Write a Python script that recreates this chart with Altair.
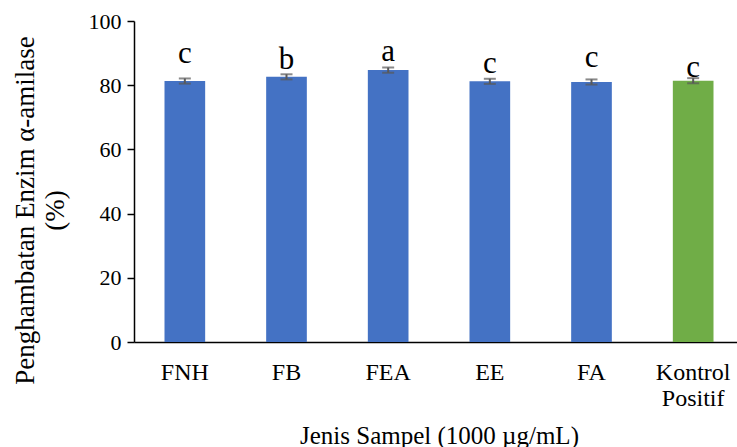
import altair as alt
import pandas as pd

samples = ["FNH", "FB", "FEA", "EE", "FA", "Kontrol Positif"]
values = [81.3, 82.6, 84.7, 81.2, 81.0, 81.4]
errors = [0.8, 0.8, 0.8, 0.8, 0.8, 0.8]
letters = ["c", "b", "a", "c", "c", "c"]
letter_y = [86.8, 84.9, 87.5, 83.7, 85.8, 82.6]
colors = ["#4472C4", "#4472C4", "#4472C4", "#4472C4", "#4472C4", "#70AD47"]

df = pd.DataFrame({
    "sample": samples,
    "value": values,
    "lo": [v - e for v, e in zip(values, errors)],
    "hi": [v + e for v, e in zip(values, errors)],
    "letter": letters,
    "ly": letter_y,
    "color": colors,
})

FONT = "Liberation Serif"

x = alt.X(
    "sample:N",
    sort=samples,
    scale=alt.Scale(paddingInner=0.6, paddingOuter=0.3, range=[0, 610]),
    axis=alt.Axis(
        title="Jenis Sampel (1000 µg/mL)",
        titleFont=FONT, titleFontSize=25, titleFontWeight="normal", titleColor="black",
        titleY=101, titleBaseline="alphabetic",
        labelFont=FONT, labelFontSize=24, labelColor="black", labelAngle=0,
        labelPadding=18, labelLineHeight=26, labelBaseline="top",
        labelExpr="datum.label == 'Kontrol Positif' ? ['Kontrol', 'Positif'] : datum.label",
        ticks=False, tickSize=0,
    ),
)

y_scale = alt.Scale(domain=[0, 100], nice=False)
y_axis = alt.Axis(
    title=["Penghambatan Enzim α-amilase", "(%)"],
    titleFont=FONT, titleFontSize=27, titleFontWeight="normal", titleColor="black",
    titleAngle=270, titleAlign="center", titleBaseline="middle",
    titleX=-109, titleY=189, titleLineHeight=30,
    labelFont=FONT, labelFontSize=22, labelColor="black", labelPadding=6,
    values=[0, 20, 40, 60, 80, 100],
    tickSize=7,
)

base = alt.Chart(df)

bars = base.mark_bar().encode(
    x=x,
    y=alt.Y("value:Q", scale=y_scale, axis=y_axis),
    color=alt.Color("color:N", scale=None),
)

xs = alt.X("sample:N", sort=samples)
rule = base.mark_rule(color="#595959", strokeWidth=2).encode(
    x=xs, y="lo:Q", y2="hi:Q",
)
cap_lo = base.mark_tick(color="#595959", size=12, thickness=2, orient="horizontal").encode(
    x=xs, y="lo:Q",
)
cap_hi = base.mark_tick(color="#595959", size=12, thickness=2, orient="horizontal").encode(
    x=xs, y="hi:Q",
)
text = base.mark_text(font=FONT, fontSize=31, baseline="alphabetic", align="center", color="black").encode(
    x=xs, y="ly:Q", text="letter:N",
)

label_cfg = {"font": FONT, "fill": "black", "fontWeight": "normal"}

chart = alt.layer(bars, rule, cap_lo, cap_hi, text).properties(
    width=603,
    height=321,
    autosize=alt.AutoSizeParams(type="none"),
    padding={"left": 134, "top": 21, "right": 0, "bottom": 105},
    background="white",
).configure(
    font=FONT,
    style={"guide-label": label_cfg, "guide-title": label_cfg},
).configure_view(stroke=None).configure_axis(
    labelFont=FONT, labelColor="black", labelFontWeight="normal",
    titleFont=FONT, titleColor="black", titleFontWeight="normal",
    domainColor="black", domainWidth=1.5, tickColor="black", tickWidth=1.5,
    grid=False,
)

chart.save("out.html", embed_options={"renderer": "svg", "actions": False})
